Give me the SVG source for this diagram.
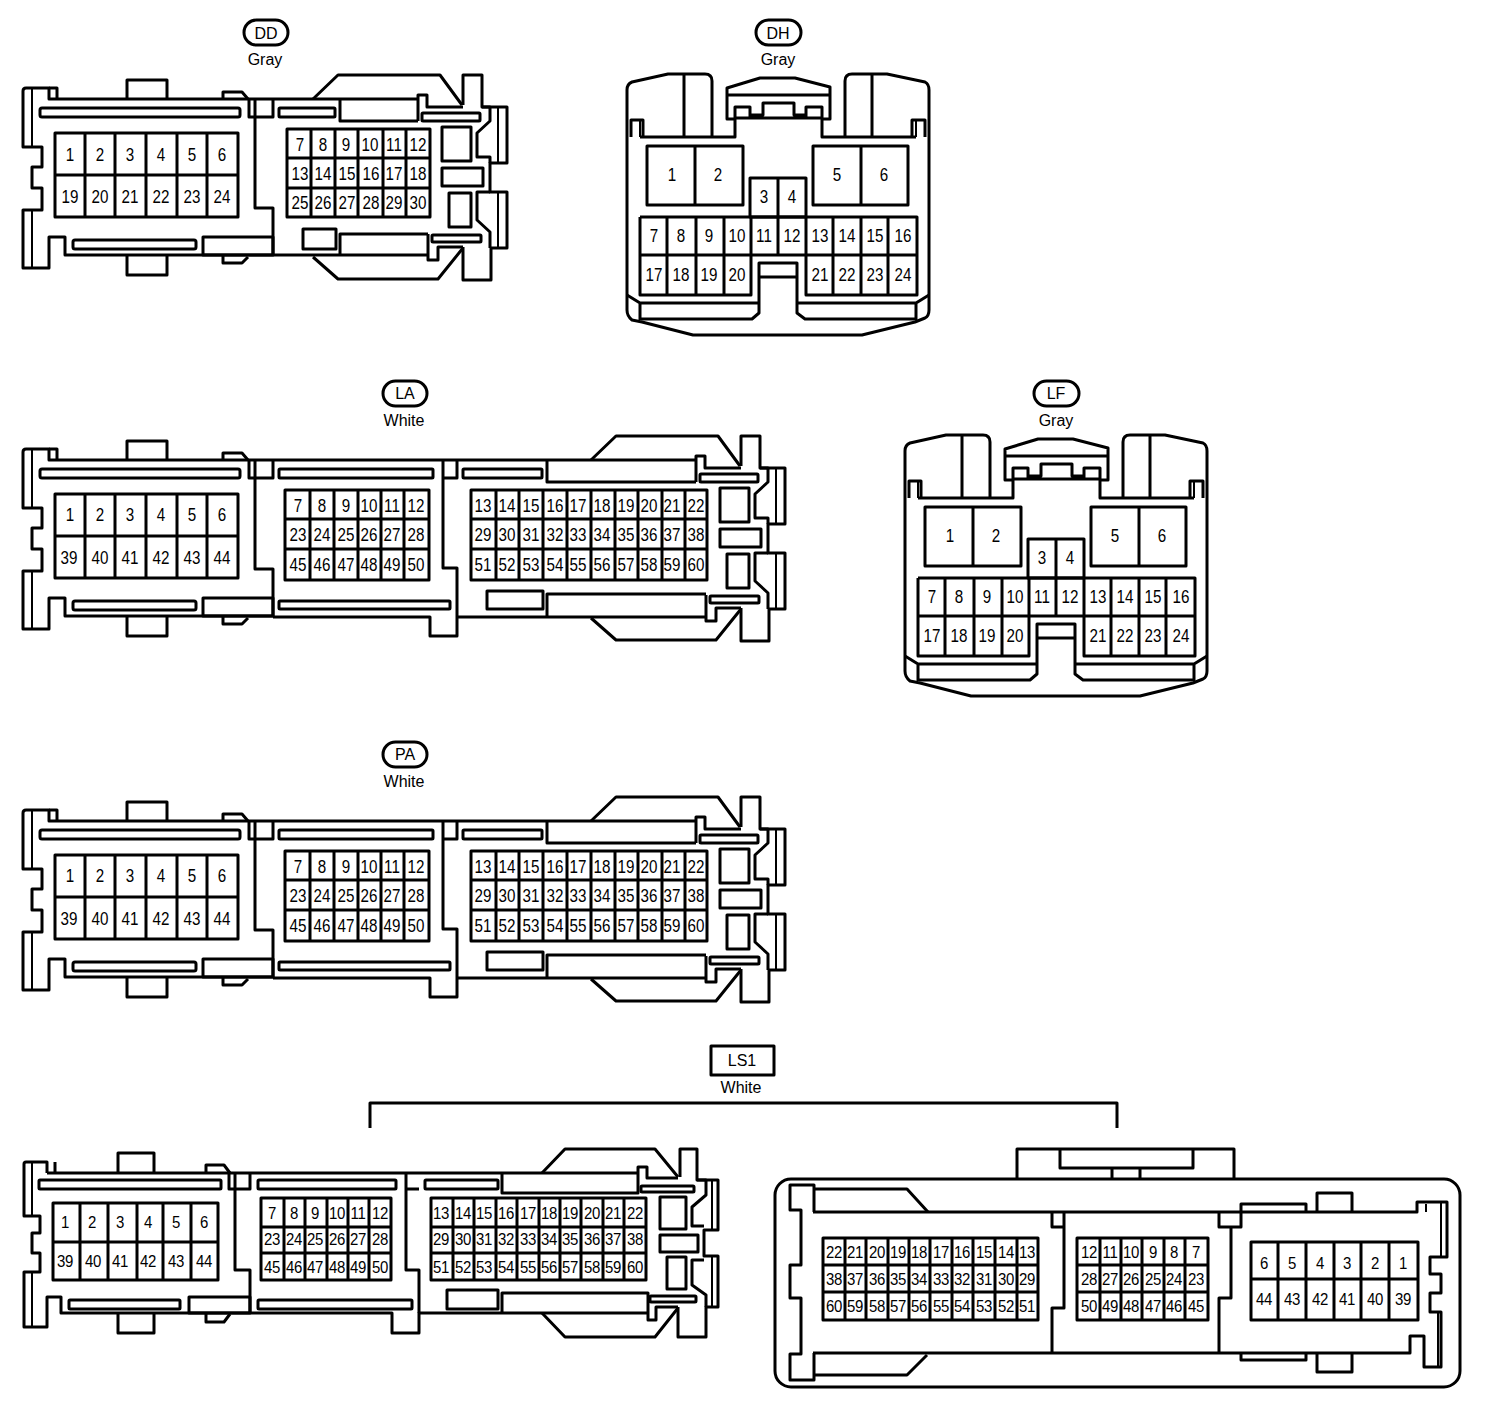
<svg xmlns="http://www.w3.org/2000/svg" xmlns:xlink="http://www.w3.org/1999/xlink" width="1504" height="1406" viewBox="0 0 1504 1406">
<style>
path,rect{fill:none;stroke:#000;stroke-width:3;stroke-linejoin:round}
.thin{stroke-width:2}
text{font-family:"Liberation Sans",Arial,sans-serif;font-size:16px;text-anchor:middle;fill:#000;transform-box:fill-box;transform-origin:center;transform:scale(.95,1.15)}
.lb{font-size:16px;transform:none}
.sm{font-size:15px;letter-spacing:-.3px;transform:scale(1,1.12)}
</style>
<defs>
<g id="left-part">
<path d="M273,99 H49 V88 H26 Q23,88 23,91 V147 H42 V167 H32 V188 H42 V210 H23 V268 H49 V237 H65 V255 H273"/>
<path d="M49,88 H57 V99 M127,99 V80 H167 V99 M223,99 V92 H242 L248,99 M127,255 V275 H167 V255 M223,255 V263 H242 L248,257"/>
<path class="thin" d="M32,88 V147 M32,210 V268"/>
<rect x="40" y="108" width="200" height="9" rx="2"/><rect x="73" y="240" width="123" height="9" rx="2"/>
<path d="M255,99 V208 H273 V255 M249,99 V117 H273 V99"/>
<rect x="203" y="237" width="70" height="18"/>
<rect x="55" y="133" width="183" height="84"/>
<path d="M55,175 H238 M85,133 V217 M115,133 V217 M146,133 V217 M177,133 V217 M207,133 V217"/>
</g>
<g id="right-end">
<path d="M463,105 V75 H482 V107 H507 V163 H490 V192 H507 V248 H491 V280 H463 V247"/>
<path d="M313,99 L338,75 H440 L462,105 M313,257 L338,279 H438 L463,248"/>
<path d="M418,121 V95 H427 V107 H463 M428,234 V260 H438 V247 H463"/>
<path d="M482,107 H490 V121 L477,133 V157 H490 V163 M490,192 H477 V220 L490,232 V248"/>
<path class="thin" d="M498,107 V163 M498,192 V248"/>
<rect x="442" y="127" width="29" height="34"/><rect x="442" y="168" width="41" height="18"/><rect x="449" y="193" width="22" height="34"/>
<rect x="422" y="113" width="58" height="8" rx="1"/><rect x="432" y="235" width="49" height="7" rx="1"/>
</g>
<g id="la-body">
<use href="#left-part" xlink:href="#left-part" y="361"/>
<use href="#right-end" xlink:href="#right-end" x="278" y="361"/>
<path d="M273,460 H696 M273,617 H430 V636 H457 V617 H706 M443,460 V568 H457 V617 M457,460 V478 H443 M547,460 V482 H696 M547,617 V594 H706"/>
<rect x="279" y="469" width="154" height="9" rx="1"/><rect x="463" y="469" width="79" height="9" rx="1"/><rect x="279" y="601" width="171" height="8" rx="1"/><rect x="487" y="591" width="56" height="18"/>
<rect x="285" y="490" width="144" height="90"/>
<path d="M285,519 H429 M285,549 H429 M310,490 V580 M334,490 V580 M358,490 V580 M381,490 V580 M404,490 V580"/>
<rect x="471" y="490" width="236" height="90"/>
<path d="M471,519 H707 M471,549 H707 M496,490 V580 M519,490 V580 M543,490 V580 M567,490 V580 M591,490 V580 M615,490 V580 M638,490 V580 M662,490 V580 M685,490 V580"/>
</g>
<g id="dh-body">
<path d="M627,310 V90 Q627,84 632,82 L668,74 H705 Q712,74 712,81 V137 M640,137 H735 V119 H727 V88 L760,78 H795 L830,87 V119 H822 V137 H916 M845,137 V81 Q845,74 852,74 H887 L925,82 Q929,84 929,90 V310 Q929,316 925,318 L915,322 L862,335 H693 L642,322 L632,320 Q627,316 627,310"/>
<path d="M684,74 V137 M872,74 V137 M727,95 H830 M735,119 V107 H750 V118 M806,118 V107 H822 V119 M750,115 H763 V103 H794 V115 H806 M735,118 H822"/>
<path d="M631,137 V120 H643 V137 M912,137 V120 H925 V137"/>
<path class="thin" d="M640,121 V137 M916,121 V137"/>
<path d="M627,295 L640,303 H758 M797,303 H916 L929,295 M640,303 V320 M916,303 V320 M641,319 H752 L759,313 V263 H797 V313 L805,319 H916 M759,277 H797"/>
<rect x="647" y="146" width="96" height="59"/><path d="M695,146 V205"/>
<rect x="813" y="146" width="95" height="59"/><path d="M861,146 V205"/>
<rect x="750" y="178" width="56" height="39"/><path d="M778,178 V255"/>
<path d="M640,217 H917 V295 H806 V217 M640,217 V295 H751 V217 M640,255 H917 M667,217 V295 M696,217 V295 M724,217 V295 M833,217 V295 M861,217 V295 M888,217 V295"/>
</g>
</defs>

<g id="connectors"><path d="M370,1128 V1103 H1117 V1128"/></g>

<g id="DD-label"><rect x="244" y="20" width="44" height="25" rx="12.5"/><text class="lb" x="266" y="39">DD</text><text class="lb" x="265" y="65">Gray</text></g>
<g id="DH-label"><rect x="756" y="20" width="45" height="25" rx="12.5"/><text class="lb" x="778" y="39">DH</text><text class="lb" x="778" y="65">Gray</text></g>
<g id="LA-label"><rect x="383" y="381" width="44" height="25" rx="12.5"/><text class="lb" x="405" y="399">LA</text><text class="lb" x="404" y="426">White</text></g>
<g id="LF-label"><rect x="1034" y="381" width="45" height="25" rx="12.5"/><text class="lb" x="1056" y="399">LF</text><text class="lb" x="1056" y="426">Gray</text></g>
<g id="PA-label"><rect x="383" y="742" width="44" height="25" rx="12.5"/><text class="lb" x="405" y="760">PA</text><text class="lb" x="404" y="787">White</text></g>
<g id="LS1-label"><rect x="711" y="1046" width="63" height="29"/><text class="lb" x="742" y="1066">LS1</text><text class="lb" x="741" y="1093">White</text></g>

<g id="DD">
<use href="#left-part" xlink:href="#left-part"/>
<use href="#right-end" xlink:href="#right-end"/>
<path d="M273,99 H418 M273,255 H428 M340,99 V121 H418 M340,255 V234 H428"/>
<rect x="279" y="108" width="56" height="9" rx="1"/><rect x="303" y="229" width="33" height="20"/>
<rect x="287" y="129" width="143" height="88"/>
<path d="M287,158 H430 M287,188 H430 M311,129 V217 M335,129 V217 M358,129 V217 M383,129 V217 M406,129 V217"/>
<text x="70" y="160">1</text><text x="100" y="160">2</text><text x="130" y="160">3</text><text x="161" y="160">4</text><text x="192" y="160">5</text><text x="222" y="160">6</text>
<text x="70" y="202">19</text><text x="100" y="202">20</text><text x="130" y="202">21</text><text x="161" y="202">22</text><text x="192" y="202">23</text><text x="222" y="202">24</text>
<text x="300" y="150">7</text><text x="323" y="150">8</text><text x="346" y="150">9</text><text x="370" y="150">10</text><text x="394" y="150">11</text><text x="418" y="150">12</text>
<text x="300" y="179">13</text><text x="323" y="179">14</text><text x="347" y="179">15</text><text x="371" y="179">16</text><text x="394" y="179">17</text><text x="418" y="179">18</text>
<text x="300" y="208">25</text><text x="323" y="208">26</text><text x="347" y="208">27</text><text x="371" y="208">28</text><text x="394" y="208">29</text><text x="418" y="208">30</text>
</g>

<g id="DH">
<use href="#dh-body" xlink:href="#dh-body"/>
<text x="672" y="180">1</text><text x="718" y="180">2</text><text x="837" y="180">5</text><text x="884" y="180">6</text><text x="764" y="202">3</text><text x="792" y="202">4</text>
<text x="654" y="241">7</text><text x="681" y="241">8</text><text x="709" y="241">9</text><text x="737" y="241">10</text><text x="764" y="241">11</text><text x="792" y="241">12</text><text x="820" y="241">13</text><text x="847" y="241">14</text><text x="875" y="241">15</text><text x="903" y="241">16</text>
<text x="654" y="280">17</text><text x="681" y="280">18</text><text x="709" y="280">19</text><text x="737" y="280">20</text><text x="820" y="280">21</text><text x="847" y="280">22</text><text x="875" y="280">23</text><text x="903" y="280">24</text>
</g>

<g id="LA">
<use href="#la-body" xlink:href="#la-body"/>
<text x="70" y="520">1</text><text x="100" y="520">2</text><text x="130" y="520">3</text><text x="161" y="520">4</text><text x="192" y="520">5</text><text x="222" y="520">6</text>
<text x="69" y="563">39</text><text x="100" y="563">40</text><text x="130" y="563">41</text><text x="161" y="563">42</text><text x="192" y="563">43</text><text x="222" y="563">44</text>
<text x="298" y="511">7</text><text x="322" y="511">8</text><text x="346" y="511">9</text><text x="369" y="511">10</text><text x="392" y="511">11</text><text x="416" y="511">12</text>
<text x="298" y="540">23</text><text x="322" y="540">24</text><text x="346" y="540">25</text><text x="369" y="540">26</text><text x="392" y="540">27</text><text x="416" y="540">28</text>
<text x="298" y="570">45</text><text x="322" y="570">46</text><text x="346" y="570">47</text><text x="369" y="570">48</text><text x="392" y="570">49</text><text x="416" y="570">50</text>
<text x="483" y="511">13</text><text x="507" y="511">14</text><text x="531" y="511">15</text><text x="555" y="511">16</text><text x="578" y="511">17</text><text x="602" y="511">18</text><text x="626" y="511">19</text><text x="649" y="511">20</text><text x="672" y="511">21</text><text x="696" y="511">22</text>
<text x="483" y="540">29</text><text x="507" y="540">30</text><text x="531" y="540">31</text><text x="555" y="540">32</text><text x="578" y="540">33</text><text x="602" y="540">34</text><text x="626" y="540">35</text><text x="649" y="540">36</text><text x="672" y="540">37</text><text x="696" y="540">38</text>
<text x="483" y="570">51</text><text x="507" y="570">52</text><text x="531" y="570">53</text><text x="555" y="570">54</text><text x="578" y="570">55</text><text x="602" y="570">56</text><text x="626" y="570">57</text><text x="649" y="570">58</text><text x="672" y="570">59</text><text x="696" y="570">60</text>
</g>

<g id="LF" transform="translate(278,361)">
<use href="#dh-body" xlink:href="#dh-body"/>
<text x="672" y="180">1</text><text x="718" y="180">2</text><text x="837" y="180">5</text><text x="884" y="180">6</text><text x="764" y="202">3</text><text x="792" y="202">4</text>
<text x="654" y="241">7</text><text x="681" y="241">8</text><text x="709" y="241">9</text><text x="737" y="241">10</text><text x="764" y="241">11</text><text x="792" y="241">12</text><text x="820" y="241">13</text><text x="847" y="241">14</text><text x="875" y="241">15</text><text x="903" y="241">16</text>
<text x="654" y="280">17</text><text x="681" y="280">18</text><text x="709" y="280">19</text><text x="737" y="280">20</text><text x="820" y="280">21</text><text x="847" y="280">22</text><text x="875" y="280">23</text><text x="903" y="280">24</text>
</g>

<g id="PA" transform="translate(0,361)">
<use href="#la-body" xlink:href="#la-body"/>
<text x="70" y="520">1</text><text x="100" y="520">2</text><text x="130" y="520">3</text><text x="161" y="520">4</text><text x="192" y="520">5</text><text x="222" y="520">6</text>
<text x="69" y="563">39</text><text x="100" y="563">40</text><text x="130" y="563">41</text><text x="161" y="563">42</text><text x="192" y="563">43</text><text x="222" y="563">44</text>
<text x="298" y="511">7</text><text x="322" y="511">8</text><text x="346" y="511">9</text><text x="369" y="511">10</text><text x="392" y="511">11</text><text x="416" y="511">12</text>
<text x="298" y="540">23</text><text x="322" y="540">24</text><text x="346" y="540">25</text><text x="369" y="540">26</text><text x="392" y="540">27</text><text x="416" y="540">28</text>
<text x="298" y="570">45</text><text x="322" y="570">46</text><text x="346" y="570">47</text><text x="369" y="570">48</text><text x="392" y="570">49</text><text x="416" y="570">50</text>
<text x="483" y="511">13</text><text x="507" y="511">14</text><text x="531" y="511">15</text><text x="555" y="511">16</text><text x="578" y="511">17</text><text x="602" y="511">18</text><text x="626" y="511">19</text><text x="649" y="511">20</text><text x="672" y="511">21</text><text x="696" y="511">22</text>
<text x="483" y="540">29</text><text x="507" y="540">30</text><text x="531" y="540">31</text><text x="555" y="540">32</text><text x="578" y="540">33</text><text x="602" y="540">34</text><text x="626" y="540">35</text><text x="649" y="540">36</text><text x="672" y="540">37</text><text x="696" y="540">38</text>
<text x="483" y="570">51</text><text x="507" y="570">52</text><text x="531" y="570">53</text><text x="555" y="570">54</text><text x="578" y="570">55</text><text x="602" y="570">56</text><text x="626" y="570">57</text><text x="649" y="570">58</text><text x="672" y="570">59</text><text x="696" y="570">60</text>
</g>

<g id="LS1-left">
<path d="M47,1173 V1162 H26 Q24,1162 24,1164 V1216 H40 V1233 H32 V1253 H40 V1272 H24 V1327 H47 V1297 H61 V1313 H392 V1333 H419 V1313 H648 M47,1173 H638 M55,1162 V1173"/>
<path d="M118,1173 V1153 H154 V1173 M206,1173 V1165 H224 L230,1173 M118,1313 V1333 H154 V1313 M206,1313 V1322 H224 L230,1314"/>
<path class="thin" d="M32,1162 V1216 M32,1272 V1327"/>
<path d="M235,1173 V1270 H250 V1313 M229,1173 V1189 H250 V1173 M406,1173 V1270 H419 V1313 M406,1189 H419"/>
<rect x="39" y="1180" width="182" height="9" rx="1"/><rect x="69" y="1300" width="111" height="9" rx="1"/><rect x="189" y="1297" width="61" height="16"/>
<rect x="258" y="1180" width="138" height="9" rx="1"/><rect x="258" y="1300" width="154" height="9" rx="1"/>
<rect x="425" y="1180" width="73" height="9" rx="1"/><rect x="447" y="1290" width="51" height="19"/>
<path d="M502,1173 V1193 H638 V1167 H647 V1178 H678 M502,1313 V1293 H648 V1320 H656 V1307 H678"/>
<path d="M542,1173 L565,1149 H655 L678,1177 M542,1313 L565,1337 H655 L678,1308"/>
<path d="M680,1177 V1149 H697 V1180 H718 V1230 H704 V1256 H718 V1307 H706 V1337 H678 V1307"/>
<path d="M697,1180 H706 V1195 L692,1207 V1226 H704 M704,1260 H692 V1285 L706,1295 V1307"/>
<path class="thin" d="M712,1180 V1230 M712,1256 V1307"/>
<rect x="660" y="1197" width="26" height="32"/><rect x="660" y="1235" width="38" height="17"/><rect x="667" y="1257" width="19" height="32"/>
<rect x="641" y="1186" width="53" height="6" rx="1"/><rect x="650" y="1296" width="46" height="6" rx="1"/>
<rect x="53" y="1203" width="165" height="77"/>
<path d="M53,1242 H218 M80,1203 V1280 M108,1203 V1280 M137,1203 V1280 M163,1203 V1280 M191,1203 V1280"/>
<rect x="261" y="1198" width="130" height="82"/>
<path d="M261,1227 H391 M261,1253 H391 M284,1198 V1280 M305,1198 V1280 M327,1198 V1280 M348,1198 V1280 M369,1198 V1280"/>
<rect x="431" y="1198" width="215" height="82"/>
<path d="M431,1227 H646 M431,1253 H646 M453,1198 V1280 M474,1198 V1280 M496,1198 V1280 M517,1198 V1280 M539,1198 V1280 M560,1198 V1280 M581,1198 V1280 M603,1198 V1280 M624,1198 V1280"/>
<text class="sm" x="65" y="1227">1</text><text class="sm" x="92" y="1227">2</text><text class="sm" x="120" y="1227">3</text><text class="sm" x="148" y="1227">4</text><text class="sm" x="176" y="1227">5</text><text class="sm" x="204" y="1227">6</text>
<text class="sm" x="65" y="1266">39</text><text class="sm" x="93" y="1266">40</text><text class="sm" x="120" y="1266">41</text><text class="sm" x="148" y="1266">42</text><text class="sm" x="176" y="1266">43</text><text class="sm" x="204" y="1266">44</text>
<text class="sm" x="272" y="1218">7</text><text class="sm" x="294" y="1218">8</text><text class="sm" x="315" y="1218">9</text><text class="sm" x="337" y="1218">10</text><text class="sm" x="358" y="1218">11</text><text class="sm" x="380" y="1218">12</text>
<text class="sm" x="272" y="1244">23</text><text class="sm" x="294" y="1244">24</text><text class="sm" x="315" y="1244">25</text><text class="sm" x="337" y="1244">26</text><text class="sm" x="358" y="1244">27</text><text class="sm" x="380" y="1244">28</text>
<text class="sm" x="272" y="1272">45</text><text class="sm" x="294" y="1272">46</text><text class="sm" x="315" y="1272">47</text><text class="sm" x="337" y="1272">48</text><text class="sm" x="358" y="1272">49</text><text class="sm" x="380" y="1272">50</text>
<text class="sm" x="441" y="1218">13</text><text class="sm" x="463" y="1218">14</text><text class="sm" x="484" y="1218">15</text><text class="sm" x="506" y="1218">16</text><text class="sm" x="528" y="1218">17</text><text class="sm" x="549" y="1218">18</text><text class="sm" x="570" y="1218">19</text><text class="sm" x="592" y="1218">20</text><text class="sm" x="613" y="1218">21</text><text class="sm" x="635" y="1218">22</text>
<text class="sm" x="441" y="1244">29</text><text class="sm" x="463" y="1244">30</text><text class="sm" x="484" y="1244">31</text><text class="sm" x="506" y="1244">32</text><text class="sm" x="528" y="1244">33</text><text class="sm" x="549" y="1244">34</text><text class="sm" x="570" y="1244">35</text><text class="sm" x="592" y="1244">36</text><text class="sm" x="613" y="1244">37</text><text class="sm" x="635" y="1244">38</text>
<text class="sm" x="441" y="1272">51</text><text class="sm" x="463" y="1272">52</text><text class="sm" x="484" y="1272">53</text><text class="sm" x="506" y="1272">54</text><text class="sm" x="528" y="1272">55</text><text class="sm" x="549" y="1272">56</text><text class="sm" x="570" y="1272">57</text><text class="sm" x="592" y="1272">58</text><text class="sm" x="613" y="1272">59</text><text class="sm" x="635" y="1272">60</text>
</g>

<g id="LS1-right">
<rect x="775" y="1179" width="685" height="208" rx="16"/>
<path d="M1017,1179 V1149 H1234 V1179 M1060,1149 V1168 H1193 V1149 M1112,1168 V1179 M1140,1168 V1179"/>
<path d="M813,1212 H1417 V1202 H1447 V1257 H1430 V1274 H1441 V1293 H1430 V1312 H1441 V1367 H1424 V1336 H1410 V1353 H813"/>
<path d="M928,1212 L907,1189 H814 V1185 H790 V1210 H801 V1265 H790 V1298 H801 V1354 H790 V1380 H814 V1353 M814,1185 V1212 M927,1355 L907,1375 H814"/>
<path d="M1052,1212 V1227 H1064 M1064,1212 V1308 H1052 V1353 M1219,1212 V1227 H1241 V1212 M1231,1227 V1298 H1219 V1353"/>
<path d="M1241,1212 V1204 H1306 V1212 M1317,1212 V1193 H1352 V1212 M1241,1353 V1360 H1306 V1353 M1317,1353 V1372 H1352 V1353"/>
<path class="thin" d="M1441,1202 V1257 M1426,1204 V1212 M1438,1312 V1367"/>
<rect x="823" y="1238" width="215" height="82"/>
<path d="M823,1265 H1038 M823,1292 H1038 M845,1238 V1320 M866,1238 V1320 M888,1238 V1320 M909,1238 V1320 M930,1238 V1320 M952,1238 V1320 M973,1238 V1320 M995,1238 V1320 M1017,1238 V1320"/>
<rect x="1077" y="1238" width="131" height="82"/>
<path d="M1077,1265 H1208 M1077,1292 H1208 M1100,1238 V1320 M1121,1238 V1320 M1142,1238 V1320 M1164,1238 V1320 M1185,1238 V1320"/>
<rect x="1251" y="1242" width="167" height="78"/>
<path d="M1251,1279 H1418 M1278,1242 V1320 M1306,1242 V1320 M1334,1242 V1320 M1361,1242 V1320 M1389,1242 V1320"/>
<text class="sm" x="834" y="1257">22</text><text class="sm" x="855" y="1257">21</text><text class="sm" x="877" y="1257">20</text><text class="sm" x="898" y="1257">19</text><text class="sm" x="919" y="1257">18</text><text class="sm" x="941" y="1257">17</text><text class="sm" x="962" y="1257">16</text><text class="sm" x="984" y="1257">15</text><text class="sm" x="1006" y="1257">14</text><text class="sm" x="1027" y="1257">13</text>
<text class="sm" x="834" y="1284">38</text><text class="sm" x="855" y="1284">37</text><text class="sm" x="877" y="1284">36</text><text class="sm" x="898" y="1284">35</text><text class="sm" x="919" y="1284">34</text><text class="sm" x="941" y="1284">33</text><text class="sm" x="962" y="1284">32</text><text class="sm" x="984" y="1284">31</text><text class="sm" x="1006" y="1284">30</text><text class="sm" x="1027" y="1284">29</text>
<text class="sm" x="834" y="1311">60</text><text class="sm" x="855" y="1311">59</text><text class="sm" x="877" y="1311">58</text><text class="sm" x="898" y="1311">57</text><text class="sm" x="919" y="1311">56</text><text class="sm" x="941" y="1311">55</text><text class="sm" x="962" y="1311">54</text><text class="sm" x="984" y="1311">53</text><text class="sm" x="1006" y="1311">52</text><text class="sm" x="1027" y="1311">51</text>
<text class="sm" x="1089" y="1257">12</text><text class="sm" x="1110" y="1257">11</text><text class="sm" x="1131" y="1257">10</text><text class="sm" x="1153" y="1257">9</text><text class="sm" x="1174" y="1257">8</text><text class="sm" x="1196" y="1257">7</text>
<text class="sm" x="1089" y="1284">28</text><text class="sm" x="1110" y="1284">27</text><text class="sm" x="1131" y="1284">26</text><text class="sm" x="1153" y="1284">25</text><text class="sm" x="1174" y="1284">24</text><text class="sm" x="1196" y="1284">23</text>
<text class="sm" x="1089" y="1311">50</text><text class="sm" x="1110" y="1311">49</text><text class="sm" x="1131" y="1311">48</text><text class="sm" x="1153" y="1311">47</text><text class="sm" x="1174" y="1311">46</text><text class="sm" x="1196" y="1311">45</text>
<text class="sm" x="1264" y="1268">6</text><text class="sm" x="1292" y="1268">5</text><text class="sm" x="1320" y="1268">4</text><text class="sm" x="1347" y="1268">3</text><text class="sm" x="1375" y="1268">2</text><text class="sm" x="1403" y="1268">1</text>
<text class="sm" x="1264" y="1304">44</text><text class="sm" x="1292" y="1304">43</text><text class="sm" x="1320" y="1304">42</text><text class="sm" x="1347" y="1304">41</text><text class="sm" x="1375" y="1304">40</text><text class="sm" x="1403" y="1304">39</text>
</g>
</svg>
